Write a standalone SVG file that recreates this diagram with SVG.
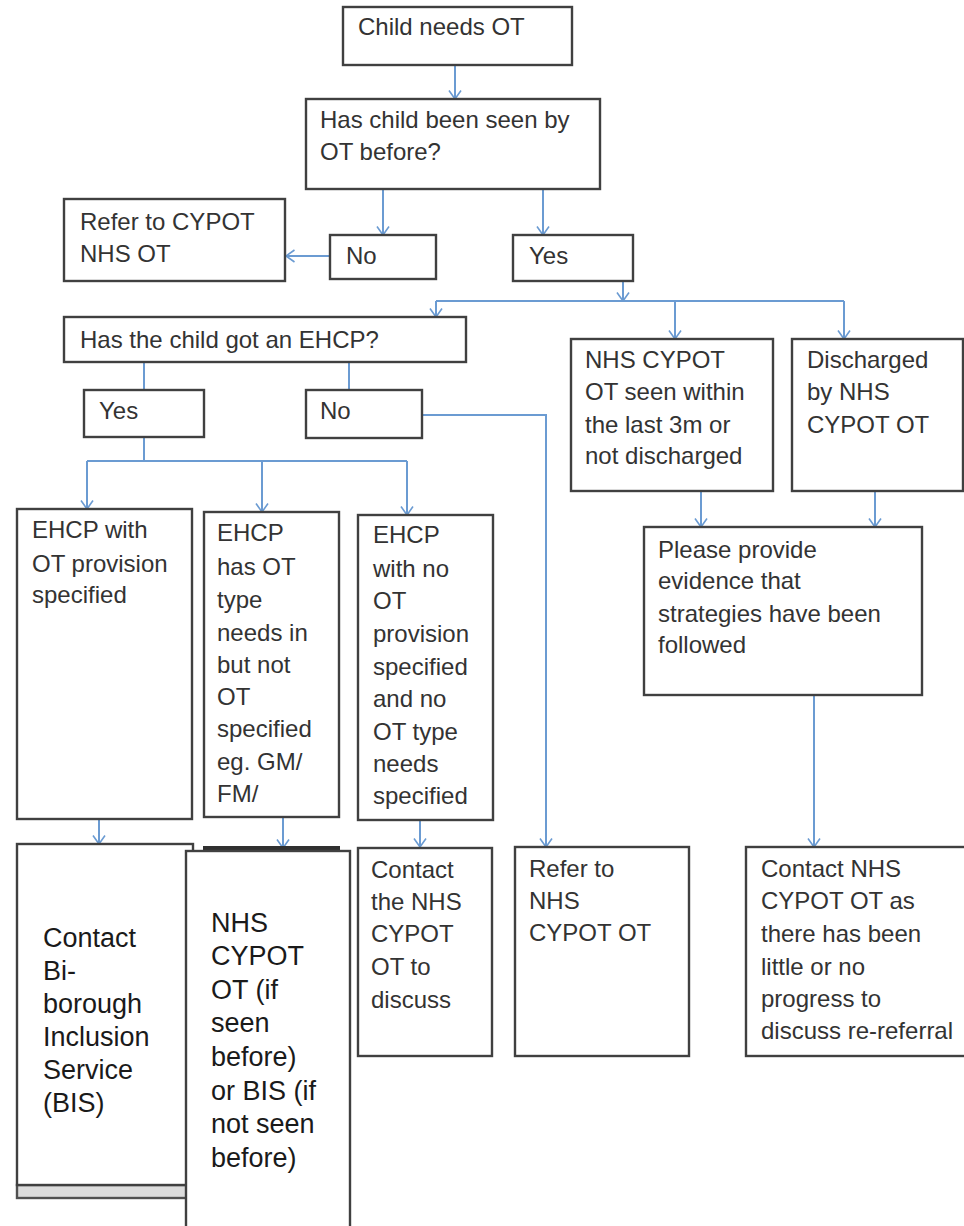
<svg xmlns="http://www.w3.org/2000/svg" width="964" height="1226" viewBox="0 0 964 1226">
<defs>
<marker id="arr" viewBox="0 0 10 14" markerWidth="10" markerHeight="14" refX="9.5" refY="7" orient="auto" markerUnits="userSpaceOnUse">
<path d="M1,1 L9.5,7 L1,13" fill="none" stroke="#6b9bd2" stroke-width="1.6"/>
</marker>
</defs>
<style>
.box{fill:#fff;stroke:#404040;stroke-width:2.4}
.t{font-family:"Liberation Sans",Arial,sans-serif;font-size:24px;fill:#333}
.tl{font-family:"Liberation Sans",Arial,sans-serif;font-size:27px;fill:#1a1a1a}
.c{fill:none;stroke:#6b9bd2;stroke-width:2}
.a{marker-end:url(#arr)}
</style>
<rect width="964" height="1226" fill="#fff"/>

<g id="connectors">
<path class="c a" d="M455,65 V99"/>
<path class="c a" d="M383,189 V235"/>
<path class="c a" d="M543,189 V235"/>
<path class="c a" d="M330,256 H286"/>
<path class="c a" d="M623,281 V301"/>
<path class="c" d="M436,301 H844"/>
<path class="c a" d="M436,301 V317"/>
<path class="c a" d="M675,301 V339"/>
<path class="c a" d="M844,301 V339"/>
<path class="c" d="M144,362 V390"/>
<path class="c" d="M349,362 V390"/>
<path class="c" d="M144,437 V461"/>
<path class="c" d="M87,461 H407"/>
<path class="c a" d="M87,461 V509"/>
<path class="c a" d="M262,461 V512"/>
<path class="c a" d="M407,461 V515"/>
<path class="c a" d="M422,415 H546 V847"/>
<path class="c a" d="M701,491 V527"/>
<path class="c a" d="M875,491 V527"/>
<path class="c a" d="M814,695 V847"/>
<path class="c a" d="M99,819 V844"/>
<path class="c a" d="M283,817 V848"/>
<path class="c a" d="M420,820 V847"/>
</g>

<g id="n_child">
<rect class="box" x="343" y="7" width="229" height="58"/>
<text class="t" x="358" y="35">Child needs OT</text>
</g>

<g id="n_seen_before">
<rect class="box" x="306" y="99" width="294" height="90"/>
<text class="t" x="320" y="128">Has child been seen by</text>
<text class="t" x="320" y="160">OT before?</text>
</g>

<g id="n_refer_cypot">
<rect class="box" x="64" y="199" width="221" height="82"/>
<text class="t" x="80" y="230">Refer to CYPOT</text>
<text class="t" x="80" y="262">NHS OT</text>
</g>

<g id="n_no1">
<rect class="box" x="330" y="235" width="106" height="44"/>
<text class="t" x="346" y="264">No</text>
</g>

<g id="n_yes1">
<rect class="box" x="513" y="235" width="120" height="46"/>
<text class="t" x="529" y="264">Yes</text>
</g>

<g id="n_ehcp">
<rect class="box" x="64" y="317" width="402" height="45"/>
<text class="t" x="80" y="348">Has the child got an EHCP?</text>
</g>

<g id="n_yes2">
<rect class="box" x="84" y="390" width="120" height="47"/>
<text class="t" x="99" y="419">Yes</text>
</g>

<g id="n_no2">
<rect class="box" x="306" y="390" width="116" height="48"/>
<text class="t" x="320" y="419">No</text>
</g>

<g id="n_seen3m">
<rect class="box" x="571" y="339" width="202" height="152"/>
<text class="t" x="585" y="368">NHS CYPOT</text>
<text class="t" x="585" y="400">OT seen within</text>
<text class="t" x="585" y="433">the last 3m or</text>
<text class="t" x="585" y="464">not discharged</text>
</g>

<g id="n_discharged">
<rect class="box" x="792" y="339" width="171" height="152"/>
<text class="t" x="807" y="368">Discharged</text>
<text class="t" x="807" y="400">by NHS</text>
<text class="t" x="807" y="433">CYPOT OT</text>
</g>

<g id="n_evidence">
<rect class="box" x="644" y="527" width="278" height="168"/>
<text class="t" x="658" y="558">Please provide</text>
<text class="t" x="658" y="589">evidence that</text>
<text class="t" x="658" y="622">strategies have been</text>
<text class="t" x="658" y="653">followed</text>
</g>

<g id="n_ehcp_ot">
<rect class="box" x="17" y="509" width="175" height="310"/>
<text class="t" x="32" y="538">EHCP with</text>
<text class="t" x="32" y="572">OT provision</text>
<text class="t" x="32" y="603">specified</text>
</g>

<g id="n_ehcp_needs">
<rect class="box" x="204" y="512" width="135" height="305"/>
<text class="t" x="217" y="541">EHCP</text>
<text class="t" x="217" y="575">has OT</text>
<text class="t" x="217" y="608">type</text>
<text class="t" x="217" y="641">needs in</text>
<text class="t" x="217" y="673">but not</text>
<text class="t" x="217" y="705">OT</text>
<text class="t" x="217" y="737">specified</text>
<text class="t" x="217" y="770">eg. GM/</text>
<text class="t" x="217" y="802">FM/</text>
</g>

<g id="n_ehcp_none">
<rect class="box" x="358" y="515" width="135" height="305"/>
<text class="t" x="373" y="543">EHCP</text>
<text class="t" x="373" y="577">with no</text>
<text class="t" x="373" y="609">OT</text>
<text class="t" x="373" y="642">provision</text>
<text class="t" x="373" y="675">specified</text>
<text class="t" x="373" y="707">and no</text>
<text class="t" x="373" y="740">OT type</text>
<text class="t" x="373" y="772">needs</text>
<text class="t" x="373" y="804">specified</text>
</g>

<g id="n_bis">
<rect x="17" y="1185" width="176" height="13" fill="#dcdcdc" stroke="#505050" stroke-width="2.4"/>
<rect class="box" x="17" y="844" width="176" height="341"/>
<text class="tl" x="43" y="947">Contact</text>
<text class="tl" x="43" y="980">Bi-</text>
<text class="tl" x="43" y="1013">borough</text>
<text class="tl" x="43" y="1046">Inclusion</text>
<text class="tl" x="43" y="1079">Service</text>
<text class="tl" x="43" y="1112">(BIS)</text>
</g>

<g id="n_nhs_or_bis">
<line x1="203" y1="848" x2="340" y2="848" stroke="#303030" stroke-width="4"/>
<rect class="box" x="186" y="851" width="164" height="400"/>
<text class="tl" x="211" y="932">NHS</text>
<text class="tl" x="211" y="965">CYPOT</text>
<text class="tl" x="211" y="999">OT (if</text>
<text class="tl" x="211" y="1032">seen</text>
<text class="tl" x="211" y="1066">before)</text>
<text class="tl" x="211" y="1100">or BIS (if</text>
<text class="tl" x="211" y="1133">not seen</text>
<text class="tl" x="211" y="1167">before)</text>
</g>

<g id="n_contact_discuss">
<rect class="box" x="358" y="848" width="134" height="208"/>
<text class="t" x="371" y="878">Contact</text>
<text class="t" x="371" y="910">the NHS</text>
<text class="t" x="371" y="942">CYPOT</text>
<text class="t" x="371" y="975">OT to</text>
<text class="t" x="371" y="1008">discuss</text>
</g>

<g id="n_refer_nhs">
<rect class="box" x="515" y="847" width="174" height="209"/>
<text class="t" x="529" y="877">Refer to</text>
<text class="t" x="529" y="909">NHS</text>
<text class="t" x="529" y="941">CYPOT OT</text>
</g>

<g id="n_rereferral">
<rect class="box" x="746" y="847" width="222" height="209"/>
<text class="t" x="761" y="877">Contact NHS</text>
<text class="t" x="761" y="909">CYPOT OT as</text>
<text class="t" x="761" y="942">there has been</text>
<text class="t" x="761" y="975">little or no</text>
<text class="t" x="761" y="1007">progress to</text>
<text class="t" x="761" y="1039">discuss re-referral</text>
</g>
</svg>
